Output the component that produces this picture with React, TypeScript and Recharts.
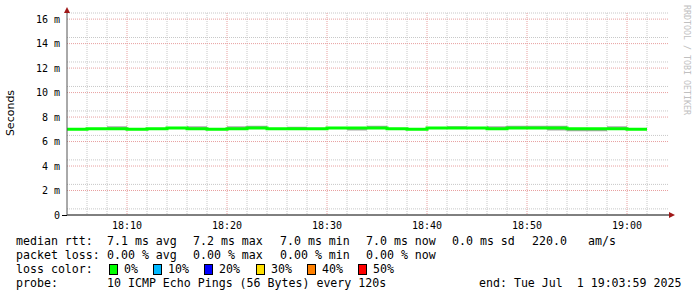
import React from "react";
import { ComposedChart, Line, Area, XAxis, YAxis, CartesianGrid } from "recharts";

// 2 minute steps, the last entry only closes the final step
const times = [
  "18:04", "18:06", "18:08", "18:10", "18:12", "18:14", "18:16", "18:18", "18:20", "18:22",
  "18:24", "18:26", "18:28", "18:30", "18:32", "18:34", "18:36", "18:38", "18:40", "18:42",
  "18:44", "18:46", "18:48", "18:50", "18:52", "18:54", "18:56", "18:58", "19:00", "19:02",
];
// median rtt in ms
const median = [
  7.0, 7.05, 7.05, 7.0, 7.05, 7.1, 7.05, 7.0, 7.05, 7.1,
  7.05, 7.05, 7.05, 7.1, 7.1, 7.1, 7.05, 7.0, 7.1, 7.1,
  7.1, 7.05, 7.1, 7.1, 7.1, 7.05, 7.05, 7.05, 7.0, 7.0,
];
// smoke (spread of the pings)
const smokeLo = [
  7.0, 7.05, 7.05, 7.0, 7.05, 7.1, 7.05, 7.0, 7.05, 7.1,
  7.05, 7.05, 7.05, 7.1, 6.9, 7.1, 7.05, 7.0, 7.1, 7.1,
  7.1, 7.05, 7.1, 7.1, 6.9, 6.85, 6.85, 7.05, 7.0, 7.0,
];
const smokeHi = [
  7.0, 7.05, 7.25, 7.0, 7.05, 7.1, 7.25, 7.0, 7.25, 7.3,
  7.05, 7.2, 7.05, 7.1, 7.1, 7.3, 7.05, 7.0, 7.1, 7.25,
  7.1, 7.25, 7.3, 7.3, 7.3, 7.05, 7.05, 7.25, 7.0, 7.0,
];
const yTicks = [0, 2, 4, 6, 8, 10, 12, 14, 16];
const xTicks = ["18:10", "18:20", "18:30", "18:40", "18:50", "19:00"];

const lossColors = [
  { label: "0%", color: "#00ff00", x: 109 },
  { label: "10%", color: "#00b8ff", x: 153 },
  { label: "20%", color: "#0000ff", x: 204 },
  { label: "30%", color: "#ffe000", x: 256 },
  { label: "40%", color: "#ff8000", x: 307 },
  { label: "50%", color: "#ff0000", x: 358 },
];

const toMin = (s: string) => {
  const [h, m] = s.split(":").map(Number);
  return (h - 18) * 60 + m;
};

const rows = times.map((t, i) => ({
  t: toMin(t),
  med: median[i],
  lo: smokeLo[i],
  band: smokeHi[i] - smokeLo[i],
}));

const minorY = Array.from({ length: 33 }, (_, i) => (i + 1) * 0.5);
const majorY = yTicks.slice(1);
const minorX = Array.from({ length: 29 }, (_, i) => 6 + i * 2);
const majorX = xTicks.map(toMin);

const mono = "'DejaVu Sans Mono', monospace";
const arrowRed = "#a01818";

function Txt({ x, y, children }: { x: number; y: number; children: React.ReactNode }) {
  return (
    <div
      style={{
        position: "absolute",
        left: x,
        top: y,
        whiteSpace: "pre",
        fontFamily: mono,
        fontSize: 11.6,
        lineHeight: "14px",
        color: "#000",
      }}
    >
      {children}
    </div>
  );
}

export default function App() {
  return (
    <div
      style={{
        position: "absolute",
        left: 0,
        top: 0,
        width: 697,
        height: 297,
        background: "#fff",
        overflow: "hidden",
      }}
    >
      <ComposedChart
        width={697}
        height={297}
        data={rows}
        margin={{ top: 13, right: 28, bottom: 62, left: 7 }}
      >
        <CartesianGrid
          horizontalValues={minorY}
          verticalValues={minorX}
          stroke="#c8c8c8"
          strokeDasharray="1 1"
        />
        <CartesianGrid
          horizontalValues={majorY}
          verticalValues={majorX}
          stroke="#e8a0a0"
          strokeDasharray="1 1"
        />
        <XAxis
          type="number"
          dataKey="t"
          domain={[4, 64.2]}
          ticks={majorX}
          tickFormatter={(v: number) => xTicks[majorX.indexOf(v)]}
          tickLine={false}
          tickSize={0}
          tickMargin={7}
          height={20}
          axisLine={{ stroke: "#000", strokeWidth: 1 }}
          tick={{ fontFamily: mono, fontSize: 10, fill: "#000" }}
        />
        <YAxis
          type="number"
          domain={[0, 16.5]}
          ticks={yTicks}
          tickFormatter={(v: number) => (v === 0 ? "0" : `${v} m`)}
          tickLine={false}
          tickSize={0}
          tickMargin={7}
          width={60}
          axisLine={{ stroke: "#555", strokeWidth: 1 }}
          tick={{ fontFamily: mono, fontSize: 10, fill: "#000" }}
        />
        <Area
          type="stepAfter"
          dataKey="lo"
          stackId="smoke"
          stroke="none"
          fill="none"
          isAnimationActive={false}
        />
        <Area
          type="stepAfter"
          dataKey="band"
          stackId="smoke"
          stroke="none"
          fill="#a8a8a8"
          fillOpacity={1}
          isAnimationActive={false}
        />
        <Line
          type="stepAfter"
          dataKey="med"
          stroke="#00ff00"
          strokeWidth={3}
          dot={false}
          isAnimationActive={false}
        />
      </ComposedChart>

      {/* axis arrow heads */}
      <div
        style={{
          position: "absolute",
          left: 64,
          top: 7,
          width: 0,
          height: 0,
          borderLeft: "3px solid transparent",
          borderRight: "3px solid transparent",
          borderBottom: `6px solid ${arrowRed}`,
          zIndex: 3,
        }}
      />
      <div
        style={{
          position: "absolute",
          left: 669,
          top: 212,
          width: 0,
          height: 0,
          borderTop: "3px solid transparent",
          borderBottom: "3px solid transparent",
          borderLeft: `6px solid ${arrowRed}`,
          zIndex: 3,
        }}
      />
      <div
        style={{
          position: "absolute",
          left: 62,
          top: 215,
          width: 5,
          height: 1,
          background: "#000",
          zIndex: 3,
        }}
      />

      <div
        style={{
          position: "absolute",
          left: 4,
          top: 106,
          width: 14,
          height: 14,
          fontFamily: "'DejaVu Sans', sans-serif",
          fontSize: 11,
          lineHeight: "14px",
          transform: "rotate(-90deg)",
          display: "flex",
          justifyContent: "center",
          whiteSpace: "pre",
        }}
      >
        Seconds
      </div>

      <div
        style={{
          position: "absolute",
          left: 682,
          top: 5,
          writingMode: "vertical-rl",
          fontFamily: mono,
          fontSize: 8.3,
          color: "#c0c0c0",
          whiteSpace: "pre",
        }}
      >
        RRDTOOL / TOBI OETIKER
      </div>

      <Txt x={16} y={234}>median rtt:</Txt>
      <Txt x={107} y={234}>7.1 ms avg</Txt>
      <Txt x={193} y={234}>7.2 ms max</Txt>
      <Txt x={280} y={234}>7.0 ms min</Txt>
      <Txt x={366} y={234}>7.0 ms now</Txt>
      <Txt x={452} y={234}>0.0 ms sd</Txt>
      <Txt x={532} y={234}>220.0</Txt>
      <Txt x={588} y={234}>am/s</Txt>

      <Txt x={16} y={248}>packet loss:</Txt>
      <Txt x={107} y={248}>0.00 % avg</Txt>
      <Txt x={193} y={248}>0.00 % max</Txt>
      <Txt x={280} y={248}>0.00 % min</Txt>
      <Txt x={366} y={248}>0.00 % now</Txt>

      <Txt x={16} y={262}>loss color:</Txt>
      {lossColors.map((c) => (
        <React.Fragment key={c.label}>
          <div
            style={{
              position: "absolute",
              left: c.x,
              top: 264,
              width: 7,
              height: 9,
              background: c.color,
              border: "1px solid #000",
            }}
          />
          <Txt x={c.x + 15} y={262}>{c.label}</Txt>
        </React.Fragment>
      ))}

      <Txt x={16} y={276}>probe:</Txt>
      <Txt x={107} y={276}>10 ICMP Echo Pings (56 Bytes) every 120s</Txt>
      <Txt x={479} y={276}>end: Tue Jul  1 19:03:59 2025</Txt>
    </div>
  );
}
